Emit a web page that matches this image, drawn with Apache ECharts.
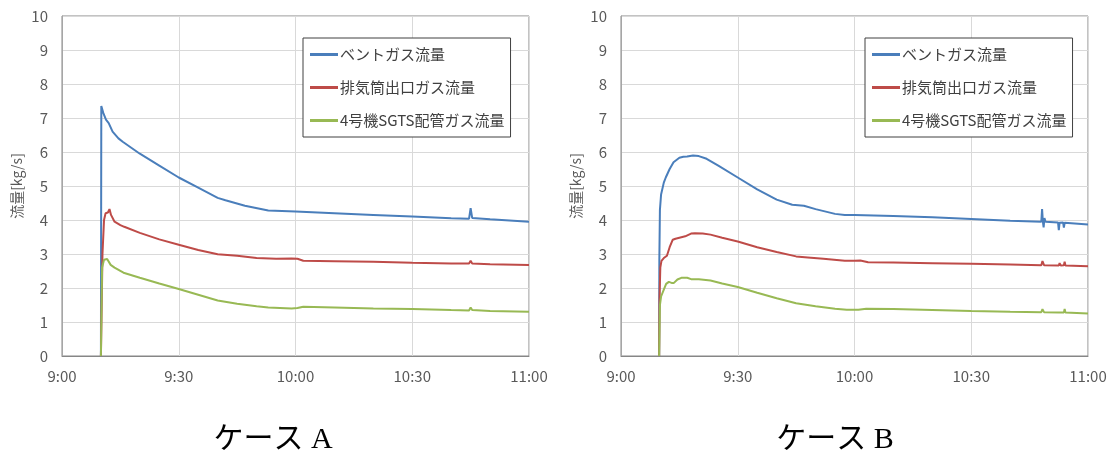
<!DOCTYPE html>
<html>
<head>
<meta charset="utf-8">
<script src="https://cdn.jsdelivr.net/npm/echarts@6/dist/echarts.min.js"></script>
<style>
  html, body { margin: 0; padding: 0; background: #ffffff; }
  #chart { width: 1111px; height: 456px; }
</style>
</head>
<body>
<div id="chart"></div>
<script>
// Time axis: minutes after 9:00; tick labels every 30 minutes
const timeLabels = ['9:00', '9:30', '10:00', '10:30', '11:00'];
const yTicks = [0, 1, 2, 3, 4, 5, 6, 7, 8, 9, 10];
const seriesNames = ['ベントガス流量', '排気筒出口ガス流量', '4号機SGTS配管ガス流量'];
const caseTitles = ['ケース A', 'ケース B'];

// Case A — [minutes after 9:00, kg/s]
const ventA = [[10,0],[10.1,7.35],[10.6,7.15],[11.3,6.95],[12,6.85],[13,6.6],[14.5,6.4],[15.6,6.3],[20,5.95],[25,5.6],[30,5.25],[35,4.95],[40,4.65],[42,4.58],[47,4.42],[53,4.28],[60,4.25],[70,4.2],[80,4.15],[90,4.1],[100,4.05],[104.6,4.04],[105,4.35],[105.4,4.06],[110,4.02],[120,3.95]];
const stackA = [[10,0],[10.4,3.0],[10.8,4.0],[11.2,4.2],[11.8,4.22],[12.2,4.32],[12.6,4.15],[13.5,3.95],[15,3.85],[16,3.8],[20,3.62],[25,3.43],[30,3.27],[35,3.12],[40,2.99],[45,2.95],[50,2.88],[55,2.86],[59,2.87],[60.5,2.86],[62,2.8],[70,2.79],[80,2.77],[90,2.74],[100,2.72],[104.6,2.72],[105,2.8],[105.4,2.72],[110,2.7],[120,2.68]];
const sgtsA = [[10,0],[10.3,2.6],[10.8,2.83],[11.6,2.85],[12,2.9],[12.5,2.68],[13.5,2.6],[15.8,2.45],[20,2.3],[25,2.13],[30,1.97],[35,1.8],[40,1.63],[45,1.54],[50,1.46],[53,1.43],[59,1.4],[60.5,1.41],[62,1.45],[70,1.43],[80,1.4],[90,1.38],[100,1.35],[104.6,1.34],[105,1.43],[105.4,1.35],[110,1.32],[120,1.3]];

// Case B — [minutes after 9:00, kg/s]
const ventB = [[9.8,0],[9.85,2.8],[10,4.3],[10.3,4.75],[11,5.1],[11.5,5.25],[12.5,5.5],[13.5,5.7],[15,5.83],[16,5.86],[17,5.87],[18.5,5.9],[20,5.88],[22,5.8],[25,5.6],[30,5.25],[35,4.9],[40,4.6],[44,4.45],[47,4.42],[50,4.32],[55,4.18],[57.5,4.15],[60,4.15],[70,4.12],[80,4.08],[90,4.03],[100,3.98],[108,3.95],[108.2,4.32],[108.4,3.96],[108.6,3.78],[108.8,4.06],[109.1,3.95],[112.3,3.93],[112.5,3.7],[112.7,3.92],[113.6,3.93],[113.8,3.78],[114,3.92],[120,3.87]];
const stackB = [[9.8,0],[9.9,1.7],[10.1,2.6],[10.4,2.8],[11,2.88],[11.8,2.95],[12.5,3.2],[13.3,3.42],[14,3.45],[15,3.48],[16.5,3.52],[18,3.6],[19,3.61],[21,3.6],[23,3.57],[26,3.48],[30,3.37],[35,3.2],[40,3.06],[45,2.93],[48,2.9],[52,2.86],[57.5,2.8],[60,2.8],[61.5,2.81],[63.5,2.76],[70,2.75],[80,2.73],[90,2.71],[100,2.69],[108,2.67],[108.3,2.79],[108.7,2.67],[112.5,2.66],[112.7,2.73],[113,2.66],[113.8,2.67],[114,2.77],[114.2,2.66],[120,2.64]];
const sgtsB = [[9.8,0],[10,1.5],[10.3,1.75],[11,1.95],[11.6,2.12],[12.3,2.18],[13,2.15],[13.6,2.15],[14.5,2.25],[15.5,2.3],[17,2.3],[18,2.26],[20,2.26],[23,2.22],[26,2.13],[30,2.03],[35,1.86],[40,1.7],[45,1.55],[50,1.46],[55,1.39],[58,1.36],[61,1.36],[63,1.39],[70,1.38],[80,1.35],[90,1.32],[100,1.3],[108,1.29],[108.3,1.38],[108.7,1.29],[112.5,1.28],[112.7,1.33],[113,1.28],[113.8,1.28],[114,1.38],[114.2,1.28],[120,1.25]];

const colors = ['#4a7ebb', '#be4b48', '#98b954'];
const labelColor = '#595959';
const sansFont = "'Noto Sans CJK JP', 'Noto Sans', sans-serif";

const plotLefts = [62, 621];
const plotWidth = 467;
const captionCenters = [273, 835];

function makeXAxis(i) {
  return {
    type: 'value', gridIndex: i, min: 0, max: 120, interval: 30,
    axisLine: { show: true, lineStyle: { color: '#868686', width: 1 } },
    axisTick: { show: false },
    splitLine: { show: true, lineStyle: { color: '#d9d9d9', width: 1 } },
    axisLabel: {
      color: labelColor, fontSize: 15, fontFamily: sansFont, margin: 13,
      formatter: v => timeLabels[Math.round(v / 30)]
    }
  };
}
function makeYAxis(i) {
  return {
    type: 'value', gridIndex: i, min: yTicks[0], max: yTicks[yTicks.length - 1], interval: 1,
    name: '流量[kg/s]', nameLocation: 'middle', nameGap: 38, nameRotate: 90,
    nameTextStyle: { color: labelColor, fontSize: 14, fontFamily: sansFont },
    axisLine: { show: true, lineStyle: { color: '#a6a6a6', width: 1 } },
    axisTick: { show: false },
    splitLine: { show: true, lineStyle: { color: '#d9d9d9', width: 1 } },
    axisLabel: { color: labelColor, fontSize: 15, fontFamily: sansFont, margin: 14 }
  };
}
function makeSeries(i, name, data, color) {
  return {
    type: 'line', name: name, xAxisIndex: i, yAxisIndex: i,
    data: data, showSymbol: false, symbol: 'none', smooth: false,
    lineStyle: { color: color, width: 2 }, itemStyle: { color: color },
    animation: false
  };
}
function makeLegend(left) {
  return {
    orient: 'vertical', left: left, top: 38,
    data: seriesNames.map(n => ({ name: n, icon: 'rect' })),
    itemWidth: 28, itemHeight: 3, itemGap: 18,
    padding: [9, 6, 9, 7],
    borderColor: '#404040', borderWidth: 1, backgroundColor: '#ffffff',
    textStyle: { color: '#404040', fontSize: 15, fontFamily: sansFont, padding: [0, 0, 0, -3] },
    selectedMode: false
  };
}

const chart = echarts.init(document.getElementById('chart'), null, { renderer: 'canvas' });
chart.setOption({
  backgroundColor: '#ffffff',
  animation: false,
  grid: plotLefts.map(l => ({
    left: l, top: 16, width: plotWidth, height: 340,
    show: true, borderColor: '#868686', borderWidth: 1, containLabel: false
  })),
  xAxis: [makeXAxis(0), makeXAxis(1)],
  yAxis: [makeYAxis(0), makeYAxis(1)],
  legend: [makeLegend(303), makeLegend(865)],
  series: [
    makeSeries(0, seriesNames[0], ventA, colors[0]),
    makeSeries(0, seriesNames[1], stackA, colors[1]),
    makeSeries(0, seriesNames[2], sgtsA, colors[2]),
    makeSeries(1, seriesNames[0], ventB, colors[0]),
    makeSeries(1, seriesNames[1], stackB, colors[1]),
    makeSeries(1, seriesNames[2], sgtsB, colors[2])
  ],
  graphic: caseTitles.map((t, i) => ({
    type: 'text', x: captionCenters[i], y: 440,
    style: {
      text: t,
      align: 'center', verticalAlign: 'middle',
      fill: '#000000', fontSize: 30, fontWeight: 'normal',
      fontFamily: "'Liberation Serif', 'DejaVu Serif', 'Noto Sans CJK JP', serif"
    }
  }))
});
</script>
</body>
</html>
